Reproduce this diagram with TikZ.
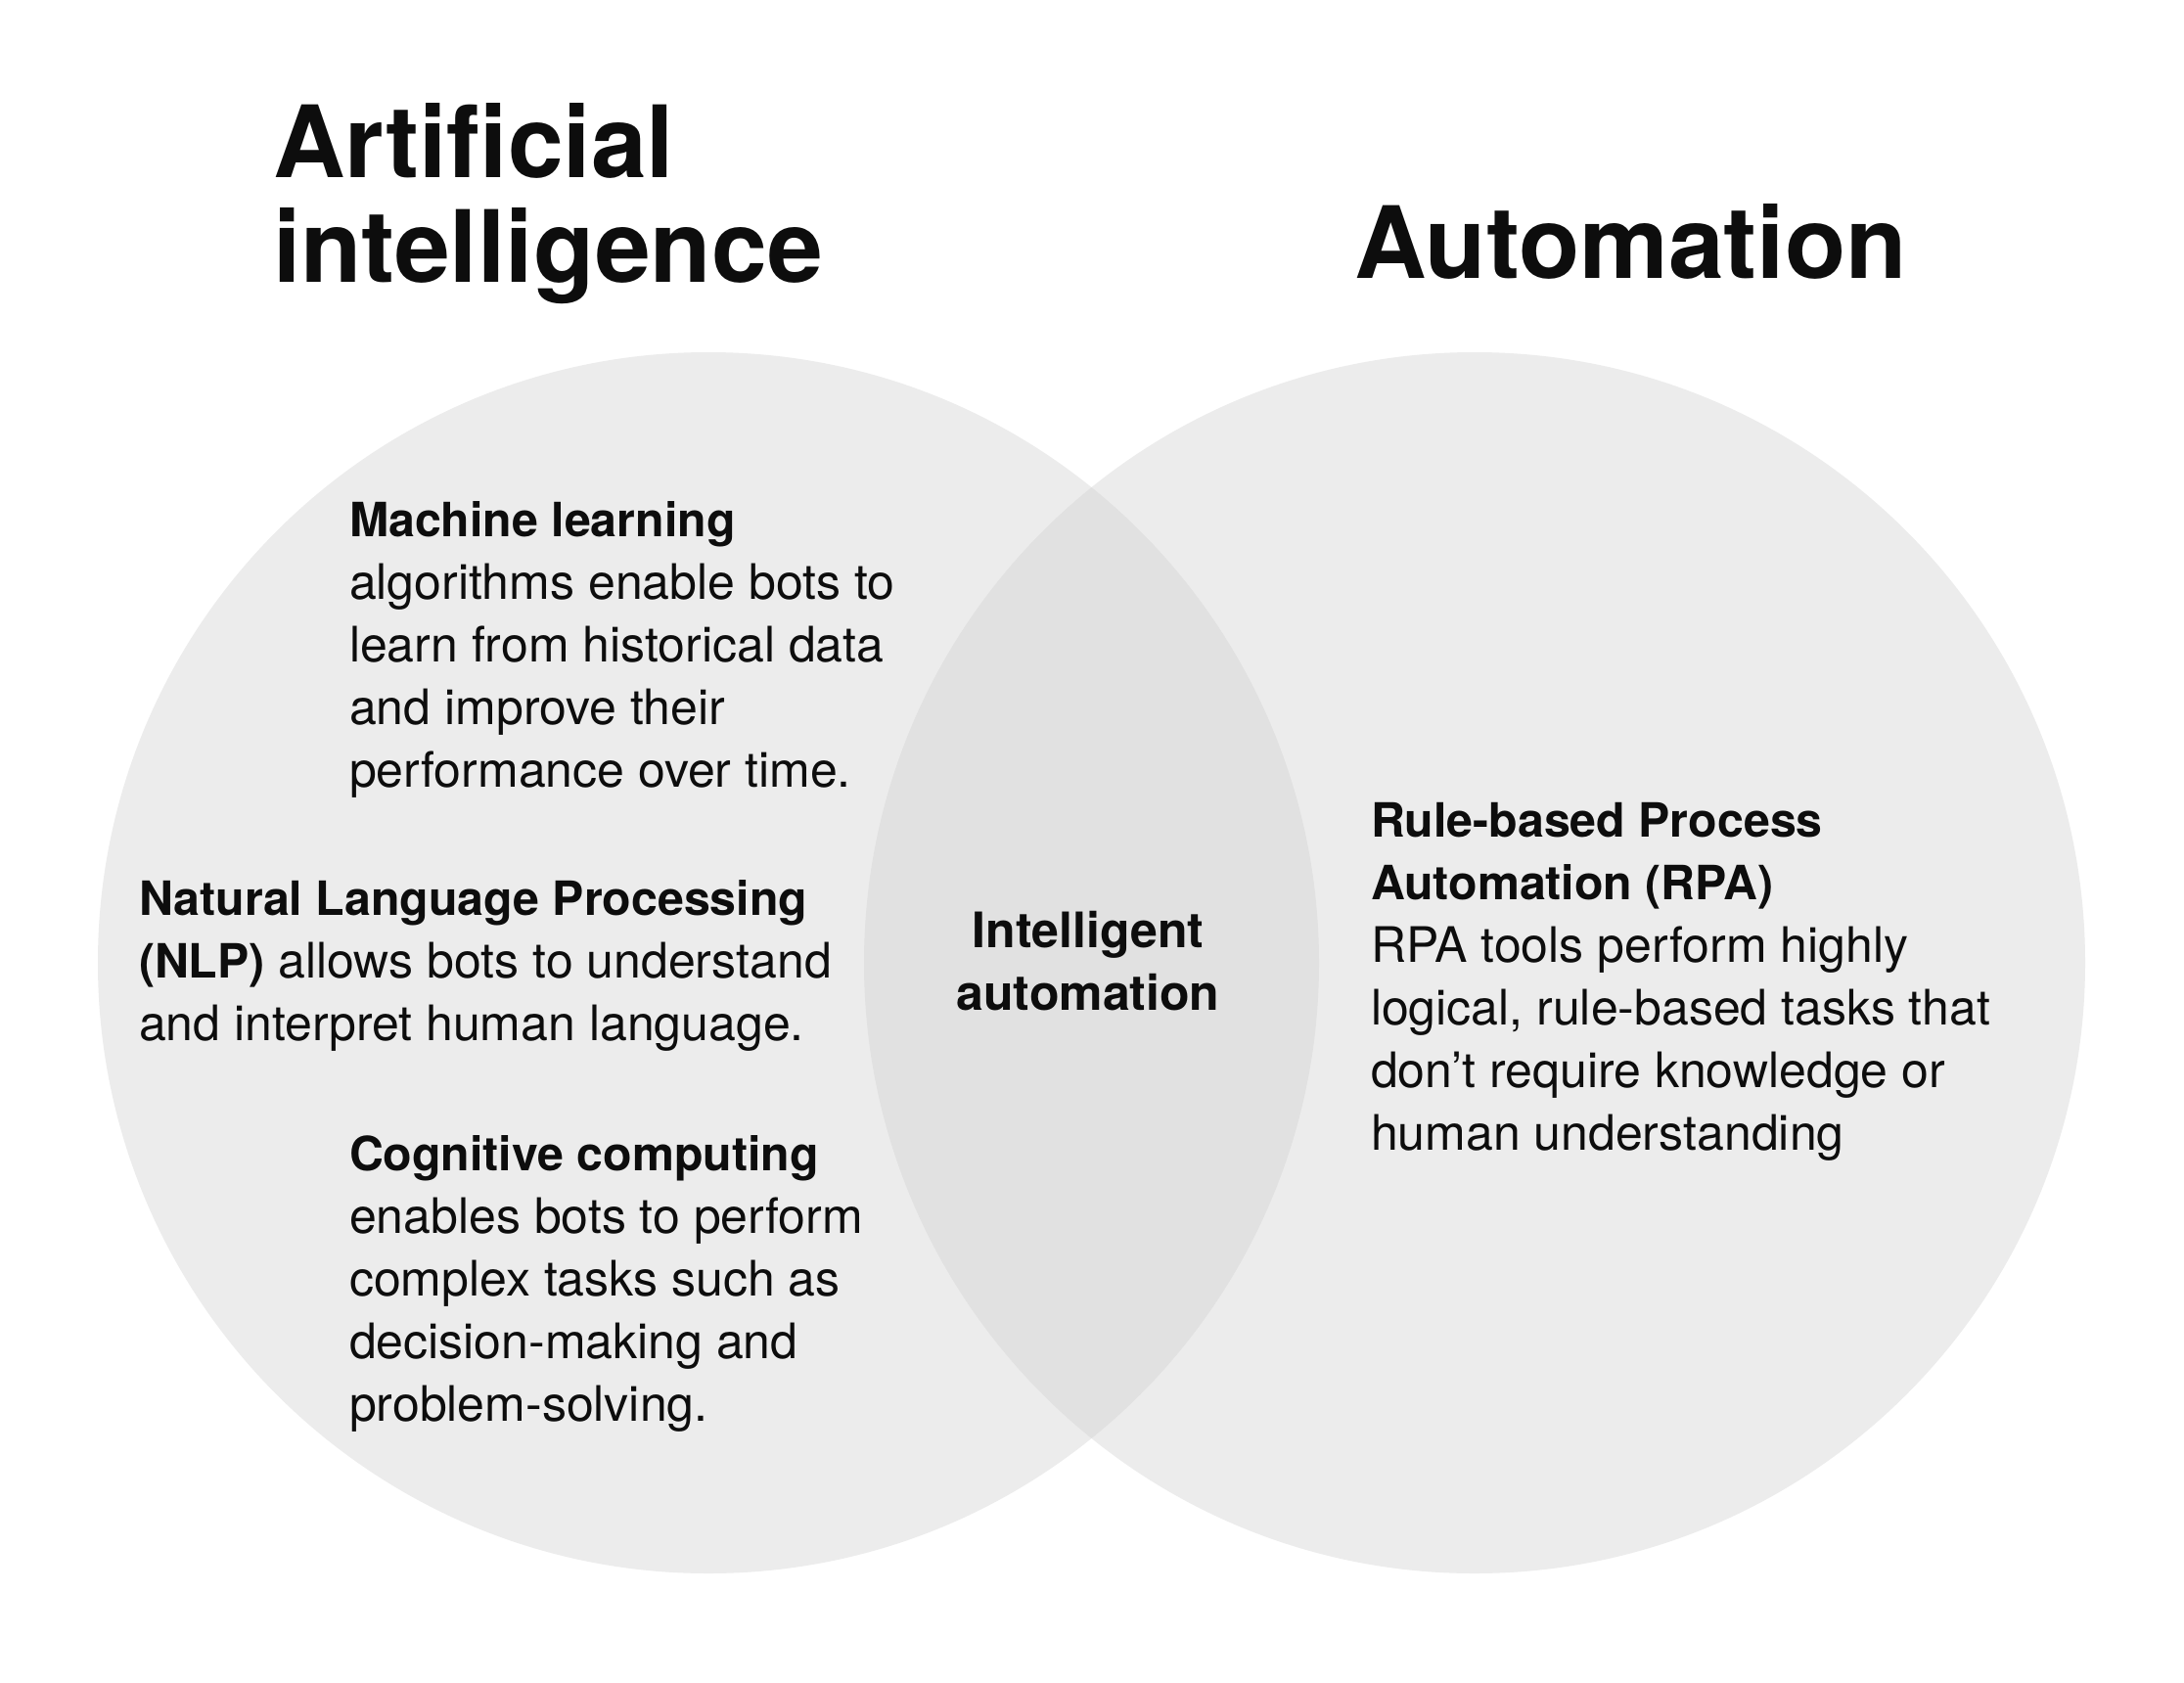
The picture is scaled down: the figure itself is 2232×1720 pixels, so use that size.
\documentclass[tikz,border=0pt]{standalone}
\usepackage{fontspec}
\setmainfont{TeX Gyre Heros}
\definecolor{circfill}{HTML}{ECECEC}
\definecolor{overfill}{HTML}{E1E1E1}
\definecolor{ink}{HTML}{0D0D0D}
\newcommand{\hb}[1]{{\fontsize{48.3}{64}\selectfont\bfseries #1}}
\begin{document}
\begin{tikzpicture}[x=1pt,y=-1pt,
  body/.style={anchor=north west, inner sep=0pt, outer sep=0pt, align=left,
    text=ink, font=\fontsize{50}{64}\selectfont},
  title/.style={inner sep=0pt, outer sep=0pt, align=left, text=ink,
    font=\fontsize{102}{100}\selectfont\bfseries},
  centerlbl/.style={anchor=north, inner sep=0pt, outer sep=0pt, align=center,
    text=ink, font=\fontsize{50}{64}\selectfont\bfseries}]
\useasboundingbox (0,0) rectangle (2232,1720);
\fill[white] (0,0) rectangle (2232,1720);
% circles
\coordinate (cl) at (724,984);
\coordinate (cr) at (1507,984);
\fill[circfill] (cl) circle[radius=624];
\fill[circfill] (cr) circle[radius=624];
\begin{scope}
  \clip (cl) circle[radius=624];
  \fill[overfill] (cr) circle[radius=624];
\end{scope}
% titles
\node[title, anchor=north west] (tai) at (279,106) {\strut Artificial\\intelligence};
\node[title, anchor=base west] (tau) at (1384,285) {Automation};
% left circle texts
\node[body] (ml) at (357,503.2) {\strut\hb{Machine learning}\\
algorithms enable bots to\\
learn from historical data\\
and improve their\\
performance over time.};
\node[body] (nlp) at (142,890.2) {\strut\hb{Natural Language Processing}\\
\hb{(NLP)} allows bots to understand\\
and interpret human language.};
\node[body] (cog) at (357,1151.2) {\strut\hb{Cognitive computing}\\
enables bots to perform\\
complex tasks such as\\
decision-making and\\
problem-solving.};
% center
\node[centerlbl] (ia) at (1112,923.2) {\strut Intelligent\\automation};
% right circle text
\node[body] (rpa) at (1401,810.2) {\strut\hb{Rule-based Process}\\
\hb{Automation (RPA)}\\
RPA tools perform highly\\
logical, rule-based tasks that\\
don’t require knowledge or\\
human understanding};
\end{tikzpicture}
\end{document}
